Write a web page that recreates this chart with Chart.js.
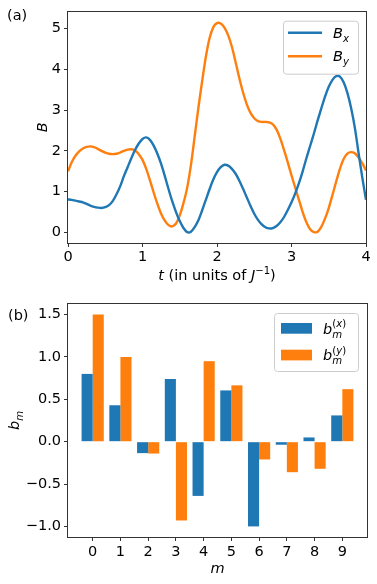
<!DOCTYPE html>
<html><head><meta charset="utf-8">
<script src="https://cdn.jsdelivr.net/npm/chart.js@4/dist/chart.umd.min.js"></script>
<style>
html,body{margin:0;padding:0;background:#fff;}
#wrap{position:relative;width:377px;height:584px;overflow:hidden;}
canvas{position:absolute;left:0;}
#c1{top:0;} #c2{top:290px;}
</style></head><body>
<div id="wrap"><canvas id="c1" width="377" height="290"></canvas><canvas id="c2" width="377" height="294"></canvas></div>
<script>
// ---------- data ----------
const tValues = [0.00,0.05,0.10,0.15,0.20,0.25,0.30,0.35,0.40,0.45,0.50,0.55,0.60,0.65,0.70,0.75,0.80,0.85,0.90,0.95,
1.00,1.05,1.10,1.15,1.20,1.25,1.30,1.35,1.40,1.45,1.50,1.55,1.60,1.65,1.70,1.75,1.80,1.85,1.90,1.95,
2.00,2.05,2.10,2.15,2.20,2.25,2.30,2.35,2.40,2.45,2.50,2.55,2.60,2.65,2.70,2.75,2.80,2.85,2.90,2.95,
3.00,3.05,3.10,3.15,3.20,3.25,3.30,3.35,3.40,3.45,3.50,3.55,3.60,3.65,3.70,3.75,3.80,3.85,3.90,3.95,4.00];
const bxValues = [0.81,0.80,0.78,0.76,0.74,0.70,0.66,0.63,0.61,0.60,0.62,0.67,0.77,0.93,1.13,1.38,1.60,1.82,2.02,2.18,
2.29,2.33,2.27,2.13,1.93,1.68,1.38,1.06,0.76,0.50,0.28,0.11,0.01,0.02,0.13,0.30,0.54,0.80,1.06,1.30,
1.48,1.60,1.66,1.64,1.56,1.44,1.27,1.07,0.86,0.65,0.46,0.31,0.20,0.13,0.10,0.11,0.16,0.25,0.38,0.55,
0.74,0.96,1.21,1.50,1.82,2.12,2.42,2.74,3.04,3.33,3.57,3.74,3.83,3.82,3.68,3.42,3.05,2.57,1.95,1.35,0.80];
const byValues = [1.50,1.72,1.88,1.99,2.06,2.10,2.11,2.09,2.05,2.00,1.96,1.93,1.92,1.93,1.96,2.00,2.03,2.04,2.01,1.92,
1.78,1.56,1.28,0.98,0.70,0.46,0.29,0.18,0.15,0.22,0.42,0.72,1.10,1.65,2.35,3.05,3.70,4.30,4.76,5.03,
5.13,5.12,5.02,4.83,4.55,4.17,3.78,3.43,3.14,2.93,2.80,2.73,2.71,2.71,2.70,2.65,2.52,2.30,2.02,1.72,
1.40,1.10,0.80,0.50,0.25,0.08,0.01,0.02,0.14,0.34,0.60,0.92,1.25,1.56,1.80,1.93,1.97,1.94,1.84,1.70,1.52];
const topXTicks = [0,1,2,3,4];
const topYTicks = [0,1,2,3,4,5];

const mValues = [0,1,2,3,4,5,6,7,8,9];
const bmX = [0.80,0.43,-0.135,0.74,-0.64,0.605,-1.00,-0.036,0.05,0.31];
const bmY = [1.50,1.00,-0.14,-0.93,0.95,0.665,-0.21,-0.36,-0.32,0.62];
const botYTicks = [-1.0,-0.5,0.0,0.5,1.0,1.5];

const lineNames = ['Bx','By'];
const barNames = ['bm(x)','bm(y)'];
const BLUE = '#1f77b4', ORANGE = '#ff7f0e';

// ---------- helpers ----------
const FAM = '"DejaVu Sans", sans-serif';
const TICK_SIZE = 14.5, LABEL_SIZE = 14.5, LEG_SIZE = 14.5;
function fnt(s, it){ return (it ? 'italic ' : '') + s + 'px ' + FAM; }
function partsWidth(ctx, parts, s){
  let w = 0;
  for (const p of parts){ ctx.font = fnt(s, p.it); w += ctx.measureText(p.t).width; }
  return w;
}
function richWidth(ctx, parts, size){
  let w = 0;
  for (const p of parts){
    if (p.stack){ const s = size*0.7; w += Math.max(partsWidth(ctx,p.stack.sup,s), partsWidth(ctx,p.stack.sub,s)); }
    else { const s = (p.sup||p.sub) ? size*0.7 : size; ctx.font = fnt(s, p.it); w += ctx.measureText(p.t).width; }
  }
  return w;
}
function drawParts(ctx, parts, x, y, s){
  for (const p of parts){ ctx.font = fnt(s, p.it); ctx.fillText(p.t, x, y); x += ctx.measureText(p.t).width; }
}
function drawRich(ctx, parts, x, cy, size, align){
  ctx.save();
  ctx.fillStyle = '#000'; ctx.textBaseline = 'alphabetic'; ctx.textAlign = 'left';
  const w = richWidth(ctx, parts, size);
  let cx = align === 'center' ? x - w/2 : x;
  const base = cy + size*0.36;
  for (const p of parts){
    if (p.stack){
      const s = size*0.7;
      drawParts(ctx, p.stack.sup, cx, base - size*0.45, s);
      drawParts(ctx, p.stack.sub, cx, base + size*0.28, s);
      cx += Math.max(partsWidth(ctx,p.stack.sup,s), partsWidth(ctx,p.stack.sub,s));
    } else {
      const s = (p.sup||p.sub) ? size*0.7 : size;
      const dy = p.sup ? -size*0.42 : (p.sub ? size*0.25 : 0);
      ctx.font = fnt(s, p.it); ctx.fillText(p.t, cx, base + dy);
      cx += ctx.measureText(p.t).width;
    }
  }
  ctx.restore();
}
function drawRotated(ctx, parts, x, cy, size){
  ctx.save(); ctx.translate(x, cy); ctx.rotate(-Math.PI/2);
  drawRich(ctx, parts, 0, 0, size, 'center'); ctx.restore();
}
function frame(chart){
  const {ctx, chartArea:a} = chart;
  ctx.save(); ctx.strokeStyle = '#333'; ctx.lineWidth = 1;
  ctx.strokeRect(Math.round(a.left)-0.5, Math.round(a.top)-0.5, Math.round(a.right-a.left)+1, Math.round(a.bottom-a.top)+1);
  ctx.restore();
}
function legendBox(ctx, x, y, w, h){
  ctx.save();
  ctx.beginPath(); ctx.roundRect(x+0.5, y+0.5, w, h, 3);
  ctx.fillStyle = 'rgba(255,255,255,0.8)'; ctx.fill();
  ctx.strokeStyle = '#cccccc'; ctx.lineWidth = 1; ctx.stroke();
  ctx.restore();
}
function labelParts(name){
  if (name.startsWith('bm')){
    const v = name.charAt(3);
    return [{t:'b', it:true}, {stack:{sup:[{t:'('},{t:v,it:true},{t:')'}], sub:[{t:'m',it:true}]}}];
  }
  return [{t:name.charAt(0), it:true}, {t:name.charAt(1), it:true, sub:true}];
}
function minus(v){ return String(v).replace('-', '\u2212'); }

Chart.defaults.font.family = FAM;
Chart.defaults.font.size = TICK_SIZE;
Chart.defaults.color = '#000';

const tickGrid = {display:true, offset:false, drawOnChartArea:false, drawTicks:true, tickLength:4, tickColor:'#333', tickWidth:1};

// ---------- top chart ----------
const topPlugin = {
  id:'topDecor',
  afterDraw(chart){
    const ctx = chart.ctx, a = chart.chartArea;
    frame(chart);
    const bw = 75, bh = 53, x0 = a.right - 8 - bw, y0 = a.top + 9;
    legendBox(ctx, x0, y0, bw, bh);
    chart.data.datasets.forEach((ds, i) => {
      const cy = y0 + 12 + i*23.5;
      ctx.save(); ctx.strokeStyle = ds.borderColor; ctx.lineWidth = 2.4;
      ctx.beginPath(); ctx.moveTo(x0+5, cy); ctx.lineTo(x0+39, cy); ctx.stroke(); ctx.restore();
      drawRich(ctx, labelParts(lineNames[i]), x0+50, cy, LEG_SIZE, 'left');
    });
    drawRich(ctx, [{t:'(a)'}], 7, 15, LABEL_SIZE, 'left');
    drawRotated(ctx, [{t:'B', it:true}], 42, (a.top+a.bottom)/2, LABEL_SIZE);
    drawRich(ctx, [{t:'t', it:true},{t:' (in units of '},{t:'J', it:true},{t:'\u22121', sup:true},{t:')'}],
      (a.left+a.right)/2, 275, LABEL_SIZE, 'center');
  }
};
new Chart(document.getElementById('c1'), {
  type:'line',
  data:{ datasets:[
    {label:lineNames[0], data:tValues.map((t,i)=>({x:t, y:bxValues[i]})), borderColor:BLUE, borderWidth:2.4, pointRadius:0, tension:0.3, fill:false},
    {label:lineNames[1], data:tValues.map((t,i)=>({x:t, y:byValues[i]})), borderColor:ORANGE, borderWidth:2.4, pointRadius:0, tension:0.3, fill:false}
  ]},
  options:{
    responsive:false, animation:false, events:[],
    layout:{padding:{left:0, top:10, right:11, bottom:0}},
    plugins:{legend:{display:false}, tooltip:{enabled:false}},
    scales:{
      x:{type:'linear', min:0, max:4, grid:tickGrid, border:{display:false},
         afterBuildTicks:s=>{ s.ticks = topXTicks.map(v=>({value:v})); },
         afterFit:s=>{ s.height = 47; },
         ticks:{padding:2, maxRotation:0, callback:v=>minus(v)}},
      y:{type:'linear', min:-0.257, max:5.41, grid:tickGrid, border:{display:false},
         afterBuildTicks:s=>{ s.ticks = topYTicks.map(v=>({value:v})); },
         afterFit:s=>{ s.width = 68; },
         ticks:{padding:3, callback:v=>minus(v)}}
    }
  },
  plugins:[topPlugin]
});

// ---------- bottom chart ----------
const botPlugin = {
  id:'botDecor',
  afterDraw(chart){
    const ctx = chart.ctx, a = chart.chartArea;
    frame(chart);
    const bw = 84, bh = 58, x0 = a.right - 9 - bw, y0 = a.top + 9;
    legendBox(ctx, x0, y0, bw, bh);
    chart.data.datasets.forEach((ds, i) => {
      const py = y0 + 10 + i*26.7;
      ctx.save(); ctx.fillStyle = ds.backgroundColor; ctx.fillRect(x0+7, py, 31, 10.7); ctx.restore();
      drawRich(ctx, labelParts(barNames[i]), x0+49, py+5.3, LEG_SIZE, 'left');
    });
    drawRich(ctx, [{t:'(b)'}], 8, 25, LABEL_SIZE, 'left');
    drawRotated(ctx, [{t:'b', it:true},{t:'m', it:true, sub:true}], 14, (a.top+a.bottom)/2, LABEL_SIZE);
    drawRich(ctx, [{t:'m', it:true}], (a.left+a.right)/2, 278, LABEL_SIZE, 'center');
  }
};
new Chart(document.getElementById('c2'), {
  type:'bar',
  data:{ datasets:[
    {label:barNames[0], data:mValues.map((m,i)=>({x:m, y:bmX[i]})), backgroundColor:BLUE, borderWidth:0, categoryPercentage:0.8, barPercentage:1.0},
    {label:barNames[1], data:mValues.map((m,i)=>({x:m, y:bmY[i]})), backgroundColor:ORANGE, borderWidth:0, categoryPercentage:0.8, barPercentage:1.0}
  ]},
  options:{
    responsive:false, animation:false, events:[],
    layout:{padding:{left:0, top:14, right:10, bottom:0}},
    plugins:{legend:{display:false}, tooltip:{enabled:false}},
    scales:{
      x:{type:'linear', offset:false, min:-0.89, max:9.89, grid:tickGrid, border:{display:false},
         afterBuildTicks:s=>{ s.ticks = mValues.map(v=>({value:v})); },
         afterFit:s=>{ s.height = 47; },
         ticks:{padding:3, maxRotation:0, callback:v=>minus(v)}},
      y:{type:'linear', min:-1.125, max:1.625, grid:tickGrid, border:{display:false},
         afterBuildTicks:s=>{ s.ticks = botYTicks.map(v=>({value:v})); },
         afterFit:s=>{ s.width = 68; },
         ticks:{padding:3, callback:v=>minus(Number(v).toFixed(1))}}
    }
  },
  plugins:[botPlugin]
});
</script>
</body></html>
